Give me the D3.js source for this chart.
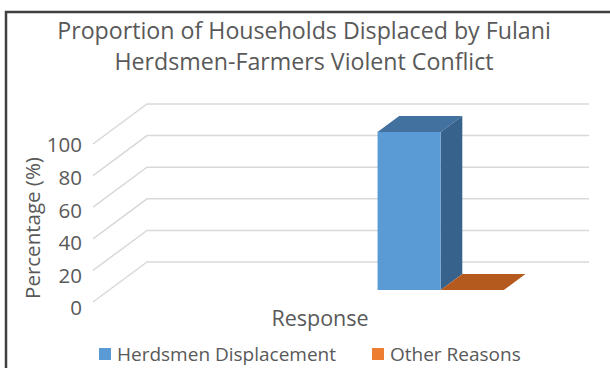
<!DOCTYPE html>
<html>
  <head>
    <script src="https://cdn.jsdelivr.net/npm/d3@7/dist/d3.min.js" charset="utf-8"></script>
    <style type="text/css">
      body {
        margin: 0;
        background: #fff;
        font-family: "Open Sans", sans-serif;
      }
      text { fill: #595959; }
    </style>
  </head>
  <body>
    <script type="text/javascript">
      // data
      var categories = ["", "Response"];   // first slot is an empty category
      var series = ["Herdsmen Displacement", "Other Reasons"];
      var herdsmen = [null, 100];
      var other = [null, 0];
      var yTicks = [0, 20, 40, 60, 80, 100];
      var titleLines = ["Proportion of Households Displaced by Fulani",
                        "Herdsmen-Farmers Violent Conflict"];

      var w = 610, h = 368;
      var front = { dx: -54, dy: 40 };   // offset of floor front edge from back wall
      var depth = [0.3, 0.7];            // bar depth (0 = back wall, 1 = front)

      var colors = {
        front: ["#5B9BD5", "#ED7D31"],
        top:   ["#4271A0", "#B45A1E"],
        side:  ["#37628C", "#9E4C17"]
      };

      var svg = d3.select("body").append("svg")
          .attr("width", w)
          .attr("height", h);

      // back wall scales
      var y = d3.scaleLinear().domain([0, 100]).range([262, 104]);
      var x = d3.scaleBand().domain(categories).range([147, 589]);
      var xs = d3.scaleBand().domain(series).range([0, x.bandwidth()]).paddingOuter(0.75);
      // tick labels sit a little wider apart than the front edge
      var yLab = d3.scaleLinear().domain([0, 100]).range([308, 145]);

      // project (x on back wall, value, depth) to screen
      function pt(px, v, d) {
        return [px + d * front.dx, y(v) + d * front.dy];
      }

      // gridlines: slanted floor-side part + back wall part
      var grid = svg.append("g")
          .attr("fill", "none")
          .attr("stroke", "#D9D9D9")
          .attr("stroke-width", 1.5);
      grid.selectAll("polyline")
          .data(yTicks)
          .enter()
          .append("polyline")
          .attr("points", function(d) {
            return [pt(x.range()[0], d, 1), pt(x.range()[0], d, 0), pt(x.range()[1], d, 0)].join(" ");
          });

      // tick labels on the front edge
      svg.append("g")
          .selectAll("text")
          .data(yTicks)
          .enter()
          .append("text")
          .attr("x", pt(x.range()[0], 0, 1)[0] - 11)
          .attr("y", function(d) { return yLab(d); })
          .attr("dy", "0.36em")
          .attr("text-anchor", "end")
          .style("font-size", "20.5px")
          .text(function(d) { return d; });

      // bars
      var values = [herdsmen, other];
      var bars = [];
      series.forEach(function(s, si) {
        categories.forEach(function(c, ci) {
          if (values[si][ci] == null) return;
          bars.push({ s: si, x0: x(c) + xs(s), x1: x(c) + xs(s) + xs.bandwidth(), v: values[si][ci] });
        });
      });

      var barG = svg.append("g")
          .selectAll("g")
          .data(bars)
          .enter()
          .append("g");

      barG.append("polygon")  // top
          .attr("fill", function(d) { return colors.top[d.s]; })
          .attr("points", function(d) {
            return [pt(d.x0, d.v, depth[1]), pt(d.x1, d.v, depth[1]),
                    pt(d.x1, d.v, depth[0]), pt(d.x0, d.v, depth[0])].join(" ");
          });
      barG.append("polygon")  // side
          .attr("fill", function(d) { return colors.side[d.s]; })
          .attr("points", function(d) {
            return [pt(d.x1, d.v, depth[1]), pt(d.x1, d.v, depth[0]),
                    pt(d.x1, 0, depth[0]), pt(d.x1, 0, depth[1])].join(" ");
          });
      barG.append("polygon")  // front
          .attr("fill", function(d) { return colors.front[d.s]; })
          .attr("points", function(d) {
            return [pt(d.x0, d.v, depth[1]), pt(d.x1, d.v, depth[1]),
                    pt(d.x1, 0, depth[1]), pt(d.x0, 0, depth[1])].join(" ");
          });

      // title
      svg.append("text")
          .attr("x", 304)
          .attr("text-anchor", "middle")
          .style("font-size", "23.2px")
          .selectAll("tspan")
          .data(titleLines)
          .enter()
          .append("tspan")
          .attr("x", 304)
          .attr("y", function(d, i) { return 39 + i * 31; })
          .text(function(d) { return d; });

      // axis titles
      svg.append("text")
          .attr("x", 320)
          .attr("y", 326)
          .attr("text-anchor", "middle")
          .style("font-size", "21.5px")
          .text("Response");

      svg.append("text")
          .attr("transform", "translate(40,228) rotate(-90)")
          .attr("text-anchor", "middle")
          .style("font-size", "20.5px")
          .text("Percentage (%)");

      // legend
      var legX = [99, 372];
      var leg = svg.append("g")
          .selectAll("g")
          .data(series)
          .enter()
          .append("g")
          .attr("transform", function(d, i) { return "translate(" + legX[i] + ",348)"; });
      leg.append("rect")
          .attr("width", 12)
          .attr("height", 12)
          .attr("fill", function(d, i) { return colors.front[i]; });
      leg.append("text")
          .attr("x", 18)
          .attr("y", 6)
          .attr("dy", "0.36em")
          .style("font-size", "19px")
          .text(function(d) { return d; });

      // chart frame (right and bottom edges fall outside the picture)
      svg.append("rect")
          .attr("x", 6)
          .attr("y", 12)
          .attr("width", 700)
          .attr("height", 400)
          .attr("fill", "none")
          .attr("stroke", "#404040")
          .attr("stroke-width", 2.5);
    </script>
  </body>
</html>
